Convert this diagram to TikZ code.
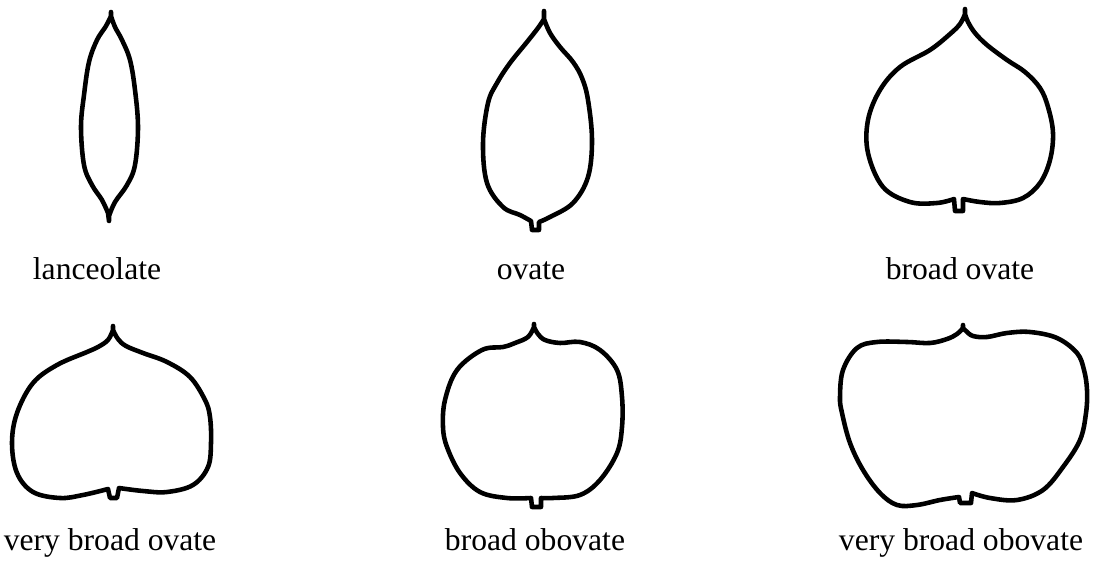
\documentclass[tikz,border=0pt]{standalone}
\usepackage{fontspec}
\setmainfont{Liberation Serif}

\begin{document}
\begin{tikzpicture}[x=0.02cm, y=-0.02cm,
					leaf/.style={line width=2.6pt, line join=round, line cap=round},
					name tag/.style={anchor=base, font=\fontsize{18}{20}\selectfont}]

  \useasboundingbox (0,0) rectangle (1097,563);

  % lanceolate
  \draw[leaf] (111,12) -- plot[smooth, tension=0.6] coordinates {(111,16) (106,26) (97,40) (89,62) (84,95) (81,127) (84,165) (92,185) (102,200) (108,213)} -- (109,221)
    -- plot[smooth, tension=0.6] coordinates {(109,216) (115,202) (127,185) (135,165) (138,127) (135,90) (130,60) (122,40) (115,27) (111,16)} -- cycle;

  % ovate
  \draw[leaf] (544,11) -- plot[smooth, tension=0.6] coordinates {(544,19) (538,28) (527,42) (510,63) (497,83) (488,103) (483,143) (487,183) (503,207) (520,215) (531,221)}
    -- (532,230) -- (539,230) -- (539,222)
    -- plot[smooth, tension=0.6] coordinates {(539,222) (550,217) (573,203) (588,177) (592,140) (588,100) (582,78) (573,62) (560,47) (550,33) (544,19)} -- cycle;

  % broad ovate
  \draw[leaf] (965,9) -- plot[smooth, tension=0.6] coordinates {(965,14) (960,24) (950,34) (930,50) (900,67) (880,90) (868,120) (868,153) (883,187) (910,202) (937,203) (954,199)}
    -- (955,211) -- (963,211) -- (963,199)
    -- plot[smooth, tension=0.6] coordinates {(963,199) (980,202) (1000,203) (1023,198) (1040,183) (1050,160) (1053,133) (1048,107) (1040,88) (1025,72) (1007,60) (987,45) (975,33) (968,22) (965,14)} -- cycle;

  % very broad ovate
  \draw[leaf] (113,326) -- plot[smooth, tension=0.6] coordinates {(113,330) (108,340) (98,347) (87,352) (57,365) (33,383) (17,413) (12,443) (17,473) (33,492) (60,498) (83,495) (108,489)}
    -- (110,498) -- (117,498) -- (119,488)
    -- plot[smooth, tension=0.6] coordinates {(119,488) (143,491) (167,492) (193,485) (208,467) (211,443) (210,417) (205,400) (190,377) (167,362) (143,353) (126,346) (118,339) (113,330)} -- cycle;

  % broad obovate
  \draw[leaf] (534,324) -- plot[smooth, tension=0.6] coordinates {(534,327) (528,337) (515,343) (503,347) (482,350) (457,370) (445,400) (443,427) (447,447) (460,473) (480,492) (507,498) (531,498)}
    -- (532,507) -- (541,507) -- (541,498)
    -- plot[smooth, tension=0.6] coordinates {(541,498) (553,498) (580,495) (600,480) (617,453) (622,427) (622,397) (617,370) (600,350) (580,342) (560,343) (545,340) (538,334) (534,327)} -- cycle;

  % very broad obovate
  \draw[leaf] (963,325) -- plot[smooth, tension=0.6] coordinates {(963,328) (957,334) (947,339) (930,343) (907,342) (877,342) (857,348) (843,370) (840,397) (842,413) (850,443) (863,470) (880,493) (897,505) (917,505) (940,500) (959,497)}
    -- (960,503) -- (971,503) -- (972,493)
    -- plot[smooth, tension=0.6] coordinates {(972,493) (990,498) (1017,500) (1043,490) (1063,467) (1080,440) (1086,413) (1087,390) (1084,370) (1077,353) (1057,338) (1030,332) (1007,333) (987,337) (973,336) (966,331) (963,328)} -- cycle;

  % names
  \node[name tag] (lanceolate) at (97,280) {lanceolate};
  \node[name tag] (ovate) at (531,280) {ovate};
  \node[name tag] (broadOvate) at (960,280) {broad ovate};
  \node[name tag] (veryBroadOvate) at (110,550) {very broad ovate};
  \node[name tag] (broadObovate) at (535,550) {broad obovate};
  \node[name tag] (veryBroadObovate) at (961,550) {very broad obovate};
\end{tikzpicture}
\end{document}
